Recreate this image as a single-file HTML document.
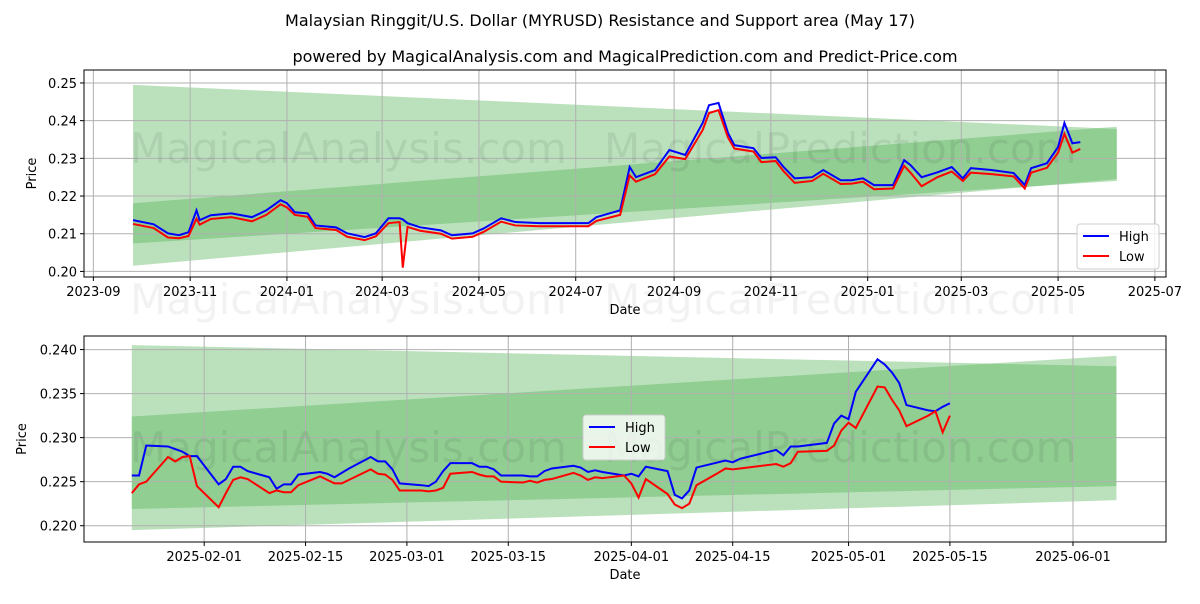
<!DOCTYPE html>
<html><head><meta charset="utf-8"><style>
body{margin:0;background:#fff;font-family:"DejaVu Sans","Liberation Sans",sans-serif;}
svg text{font-family:"DejaVu Sans","Liberation Sans",sans-serif;}
</style></head><body>
<svg id="chart" width="1200" height="600" xmlns="http://www.w3.org/2000/svg">
<rect width="1200" height="600" fill="#fff"/>
<text x="600" y="26" text-anchor="middle" font-size="16">Malaysian Ringgit/U.S. Dollar (MYRUSD) Resistance and Support area (May 17)</text>
<text x="625" y="62" text-anchor="middle" font-size="16">powered by MagicalAnalysis.com and MagicalPrediction.com and Predict-Price.com</text>
<text x="130" y="314" font-size="42" fill="#000" fill-opacity="0.05">MagicalAnalysis.com</text>
<text x="604" y="314" font-size="42" fill="#000" fill-opacity="0.05">MagicalPrediction.com</text>
</svg>
<script>
// ---- top chart data ----
const topDates=["2023-09-26","2023-10-09","2023-10-18","2023-10-25","2023-10-31","2023-11-05","2023-11-07","2023-11-14","2023-11-27","2023-12-10","2023-12-19","2023-12-28","2024-01-01","2024-01-06","2024-01-14","2024-01-19","2024-02-01","2024-02-08","2024-02-19","2024-02-26","2024-03-05","2024-03-12","2024-03-14","2024-03-17","2024-03-25","2024-04-07","2024-04-14","2024-04-27","2024-05-04","2024-05-15","2024-05-24","2024-06-08","2024-06-26","2024-07-09","2024-07-14","2024-07-29","2024-08-04","2024-08-08","2024-08-20","2024-08-29","2024-09-08","2024-09-19","2024-09-23","2024-09-29","2024-10-05","2024-10-09","2024-10-21","2024-10-26","2024-11-04","2024-11-09","2024-11-16","2024-11-27","2024-12-04","2024-12-15","2024-12-22","2024-12-29","2025-01-05","2025-01-17","2025-01-24","2025-01-28","2025-02-04","2025-02-14","2025-02-23","2025-03-02","2025-03-07","2025-03-20","2025-04-03","2025-04-10","2025-04-14","2025-04-24","2025-05-01","2025-05-05","2025-05-10","2025-05-15"];
const topHigh=[.2136,.2125,.2101,.2096,.2104,.2162,.2136,.2149,.2154,.2144,.2162,.2189,.2181,.2157,.2154,.2122,.2117,.2101,.2091,.2101,.2141,.2141,.2138,.2128,.2117,.2109,.2096,.2101,.2114,.2141,.2131,.2128,.2128,.2128,.2144,.2162,.2277,.2250,.2269,.2322,.2309,.2394,.2441,.2447,.2367,.2335,.2327,.2301,.2303,.2277,.2247,.2250,.2269,.2242,.2242,.2247,.2229,.2229,.2295,.2282,.2250,.2263,.2277,.2247,.2274,.2269,.2261,.2229,.2274,.2287,.2330,.2394,.2340,.2343];
const topLow=[.2126,.2115,.2090,.2088,.2094,.2140,.2124,.2139,.2144,.2133,.2150,.2178,.2170,.2150,.2145,.2115,.2110,.2092,.2083,.2093,.2128,.2131,.2010,.2118,.2108,.2100,.2087,.2092,.2105,.2132,.2122,.2120,.2120,.2120,.2134,.2150,.2255,.2238,.2258,.2305,.2298,.2375,.2420,.2428,.2355,.2326,.2318,.2290,.2293,.2266,.2235,.2240,.2259,.2232,.2233,.2238,.2218,.2220,.2280,.2262,.2226,.2250,.2265,.2240,.2262,.2258,.2252,.2220,.2262,.2275,.2315,.2365,.2315,.2325];
const topYTicks=[0.20,0.21,0.22,0.23,0.24,0.25];
const topXTicks=["2023-09","2023-11","2024-01","2024-03","2024-05","2024-07","2024-09","2024-11","2025-01","2025-03","2025-05","2025-07"];
const topBandA=[0.2495,0.2015,0.2378,0.2245]; // top-start,bottom-start,top-end,bottom-end
const topBandB=[0.2181,0.2074,0.2384,0.2240];
// ---- bottom chart data ----
const botDates=["2025-01-22","2025-01-23","2025-01-24","2025-01-27","2025-01-28","2025-01-29","2025-01-30","2025-01-31","2025-02-03","2025-02-04","2025-02-05","2025-02-06","2025-02-07","2025-02-10","2025-02-11","2025-02-12","2025-02-13","2025-02-14","2025-02-17","2025-02-18","2025-02-19","2025-02-20","2025-02-21","2025-02-24","2025-02-25","2025-02-26","2025-02-27","2025-02-28","2025-03-03","2025-03-04","2025-03-05","2025-03-06","2025-03-07","2025-03-10","2025-03-11","2025-03-12","2025-03-13","2025-03-14","2025-03-17","2025-03-18","2025-03-19","2025-03-20","2025-03-21","2025-03-24","2025-03-25","2025-03-26","2025-03-27","2025-03-28","2025-03-31","2025-04-01","2025-04-02","2025-04-03","2025-04-06","2025-04-07","2025-04-08","2025-04-09","2025-04-10","2025-04-13","2025-04-14","2025-04-15","2025-04-16","2025-04-21","2025-04-22","2025-04-23","2025-04-24","2025-04-28","2025-04-29","2025-04-30","2025-05-01","2025-05-02","2025-05-05","2025-05-06","2025-05-07","2025-05-08","2025-05-09","2025-05-12","2025-05-13","2025-05-14","2025-05-15"];
const botHigh=[.2257,.2257,.2291,.2290,.2287,.2284,.2279,.2279,.2247,.2253,.2267,.2267,.2262,.2255,.2242,.2247,.2247,.2258,.2261,.2259,.2255,.2260,.2265,.2278,.2273,.2273,.2264,.2248,.2246,.2245,.2250,.2262,.2271,.2271,.2267,.2267,.2264,.2257,.2257,.2256,.2256,.2262,.2265,.2268,.2266,.2261,.2263,.2261,.2257,.2259,.2256,.2267,.2262,.2235,.2231,.2240,.2266,.2272,.2274,.2272,.2276,.2286,.2280,.2290,.2290,.2294,.2316,.2325,.2321,.2352,.2389,.2383,.2374,.2362,.2337,.2331,.2330,.2335,.2339];
const botLow=[.2237,.2247,.2250,.2278,.2273,.2278,.2279,.2245,.2221,.2237,.2252,.2255,.2253,.2237,.2240,.2238,.2238,.2246,.2256,.2252,.2248,.2248,.2252,.2264,.2259,.2258,.2252,.2240,.2240,.2239,.2240,.2243,.2259,.2261,.2258,.2256,.2256,.2250,.2249,.2251,.2249,.2252,.2253,.2260,.2257,.2252,.2255,.2254,.2257,.2248,.2232,.2253,.2236,.2224,.2220,.2225,.2246,.2260,.2265,.2264,.2265,.2270,.2267,.2271,.2284,.2285,.2291,.2308,.2317,.2311,.2358,.2357,.2343,.2331,.2313,.2325,.2330,.2306,.2325];
const botYTicks=[0.220,0.225,0.230,0.235,0.240];
const botXTicks=["2025-02-01","2025-02-15","2025-03-01","2025-03-15","2025-04-01","2025-04-15","2025-05-01","2025-05-15","2025-06-01"];
const botBandA=[0.2405,0.2195,0.2381,0.2229];
const botBandB=[0.2324,0.2219,0.2393,0.2245];

const NS="http://www.w3.org/2000/svg";
const svg=document.getElementById('chart');
function mk(tag,attrs,parent){const e=document.createElementNS(NS,tag);for(const k in attrs)e.setAttribute(k,attrs[k]);(parent||svg).appendChild(e);return e;}
const dayMs=86400000;
function dnum(s){const p=s.split('-');return Date.UTC(+p[0],+p[1]-1,p[2]?+p[2]:1)/dayMs;}

function drawPanel(cfg){
  const {L,T,W,H,x0,x1,y0,y1}=cfg;
  const X=d=>L+(dnum(d)-x0)/(x1-x0)*W;
  const Y=v=>T+(y1-v)/(y1-y0)*H;
  const g=mk('g',{});
  
  
  const bx0=X(cfg.bandStart),bx1=X(cfg.bandEnd);
  [cfg.bandA,cfg.bandB].forEach((b,i)=>{
    const p=mk('polygon',{points:`${bx0},${Y(b[0])} ${bx1},${Y(b[2])} ${bx1},${Y(b[3])} ${bx0},${Y(b[1])}`,fill:'#4caf50','fill-opacity':0.38},g);
    
    
  });
  cfg.yt.forEach(v=>{
    const l=mk('line',{x1:L,x2:L+W,y1:Y(v),y2:Y(v),stroke:'#b0b0b0','stroke-width':1},g);
    
    
    mk('line',{x1:L-4,x2:L,y1:Y(v),y2:Y(v),stroke:'#000'},g);
    const t=mk('text',{x:L-7,y:Y(v)+5,'text-anchor':'end','font-size':13},g);
    t.textContent=cfg.yfmt(v);
    
    
  });
  cfg.xt.forEach(d=>{
    const x=X(d);
    const l=mk('line',{x1:x,x2:x,y1:T,y2:T+H,stroke:'#b0b0b0','stroke-width':1},g);
    
    
    mk('line',{x1:x,x2:x,y1:T+H,y2:T+H+4,stroke:'#000'},g);
    const t=mk('text',{x:x,y:T+H+19,'text-anchor':'middle','font-size':13},g);
    t.textContent=d;
    
    
  });
  const wm1=mk('text',{x:130,y:cfg.wmY,'font-size':42,fill:'#000','fill-opacity':0.07},g);
  wm1.textContent='MagicalAnalysis.com';
  
  
  const wm2=mk('text',{x:604,y:cfg.wmY,'font-size':42,fill:'#000','fill-opacity':0.07},g);
  wm2.textContent='MagicalPrediction.com';
  
  
  const hi=mk('polyline',{points:cfg.dates.map((d,i)=>X(d)+','+Y(cfg.high[i])).join(' '),fill:'none',stroke:'#0000ff','stroke-width':2},g);
  
  
  const lo=mk('polyline',{points:cfg.dates.map((d,i)=>X(d)+','+Y(cfg.low[i])).join(' '),fill:'none',stroke:'#ff0000','stroke-width':2},g);
  
  
  const fr=mk('rect',{x:L,y:T,width:W,height:H,fill:'none',stroke:'#000','stroke-width':1},g);
  
  
  const xl=mk('text',{x:L+W/2,y:T+H+37,'text-anchor':'middle','font-size':13},g);
  xl.textContent='Date';
  
  
  const yl=mk('text',{x:0,y:0,'text-anchor':'middle','font-size':13,transform:`translate(${cfg.ylX},${T+H/2}) rotate(-90)`},g);
  yl.textContent='Price';
  
  
  const lg=mk('g',{},g);
  
  
  mk('rect',{x:cfg.lgX,y:cfg.lgY,width:82,height:45,rx:3,fill:'#fff','fill-opacity':0.8,stroke:'#ccc'},lg);
  [['High','#0000ff'],['Low','#ff0000']].forEach((e,i)=>{
    const yy=cfg.lgY+12+i*20;
    mk('line',{x1:cfg.lgX+6,x2:cfg.lgX+32,y1:yy,y2:yy,stroke:e[1],'stroke-width':2},lg);
    const t=mk('text',{x:cfg.lgX+42,y:yy+5,'font-size':13},lg);
    t.textContent=e[0];
    
    
  });
}
const topX0=dnum('2023-09-01')-5.9, topX1=topX0+1082/1.5867;
const botX0=dnum('2025-02-01')-16.6, botX1=botX0+1082/7.24;
drawPanel({name:'top-panel',L:84,T:70,W:1082,H:207,x0:topX0,x1:topX1,y0:0.19852,y1:0.25344,
  yt:topYTicks,xt:topXTicks,yfmt:v=>v.toFixed(2),dates:topDates,high:topHigh,low:topLow,
  bandA:topBandA,bandB:topBandB,bandStart:'2023-09-26',bandEnd:'2025-06-07',
  wmY:163,ylX:36,lgX:1077,lgY:224});
drawPanel({name:'bottom-panel',L:84,T:336,W:1082,H:206,x0:botX0,x1:botX1,y0:0.21815,y1:0.24154,
  yt:botYTicks,xt:botXTicks,yfmt:v=>v.toFixed(3),dates:botDates,high:botHigh,low:botLow,
  bandA:botBandA,bandB:botBandB,bandStart:'2025-01-22',bandEnd:'2025-06-07',
  wmY:462,ylX:26,lgX:583,lgY:415});
</script>
</body></html>
